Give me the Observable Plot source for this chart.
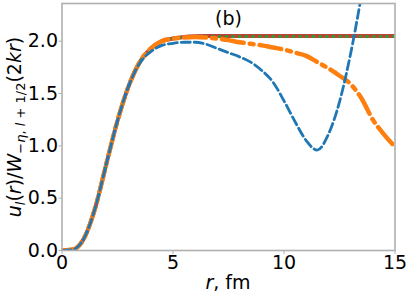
<!DOCTYPE html>
<html><head><meta charset="utf-8">
<script src="https://cdn.jsdelivr.net/npm/d3@7"></script>
<script src="https://cdn.jsdelivr.net/npm/@observablehq/plot@0.6"></script>
<style>body{margin:0;background:#fff;} svg{display:block;}</style>
</head><body><div id="chart"></div>
<script>
// radius grid (fm)
const r = [0,0.5,1,1.5,2,2.5,3,3.5,4,4.5,5,5.5,6,6.5,7,7.5,8,8.5,9,9.5,10,10.5,11,11.5,12,12.5,13,13.5,14,14.5,15];
const uRed    = [0,0.01,0.12,0.41,0.83,1.24,1.57,1.80,1.93,2.00,2.025,2.04,2.047,2.05,2.05,2.05,2.05,2.05,2.05,2.05,2.05,2.05,2.05,2.05,2.05,2.05,2.05,2.05,2.05,2.05,2.05];
const uGreen  = [0,0.01,0.12,0.41,0.83,1.24,1.57,1.80,1.93,2.00,2.025,2.037,2.043,2.045,2.045,2.045,2.045,2.045,2.045,2.045,2.045,2.045,2.045,2.045,2.045,2.045,2.045,2.045,2.045,2.045,2.045];
const uOrange = [0,0.01,0.12,0.41,0.83,1.24,1.57,1.80,1.93,2.00,2.025,2.035,2.04,2.035,2.025,2.01,1.99,1.975,1.96,1.94,1.92,1.89,1.86,1.80,1.74,1.67,1.59,1.45,1.25,1.11,0.99];
const rBlue   = [0,0.5,1,1.5,2,2.5,3,3.5,4,4.5,5,5.5,6,6.5,7,7.5,8,8.5,9,9.5,10,10.5,11,11.5,12,12.5,13,13.5];
const uBlue   = [0,0.01,0.12,0.41,0.83,1.24,1.57,1.79,1.90,1.96,1.98,1.99,1.99,1.97,1.93,1.89,1.85,1.80,1.72,1.61,1.43,1.23,1.05,0.96,1.11,1.42,1.88,2.45];
const xTicks = [0,5,10,15];
const yTicks = [0,0.5,1.0,1.5,2.0];
const panelLabel = [{r:7.5, u:2.21, text:"(b)"}];

const mk = (xs, ys) => xs.map((x,i)=>({r:x, u:ys[i]}));
const red = mk(r,uRed), green = mk(r,uGreen), orange = mk(r,uOrange), blue = mk(rBlue,uBlue);

const chart = Plot.plot({
  width: 407, height: 296,
  marginLeft: 61.5, marginRight: 12.5, marginTop: 3, marginBottom: 46,
  style: {fontFamily: "DejaVu Sans", fontSize: "19px", background: "#fff", color: "black"},
  x: {domain: [0,15]},
  y: {domain: [0,2.36]},
  marks: [
    Plot.line(red, {x:"r", y:"u", stroke:"#c0403a", strokeWidth:4, curve:"monotone-x", clip:true}),
    Plot.line(green, {x:"r", y:"u", stroke:"#2ca02c", strokeWidth:3.5, strokeDasharray:"0.1,6.6", strokeLinecap:"round", curve:"monotone-x", clip:true}),
    Plot.line(orange, {x:"r", y:"u", stroke:"#ff7f0e", strokeWidth:4.5, strokeDasharray:"22,6,4,6", curve:"monotone-x", clip:true}),
    Plot.line(blue, {x:"r", y:"u", stroke:"#1f77b4", strokeWidth:2.8, strokeDasharray:"9,4", curve:"monotone-x", clip:true}),
    Plot.frame({stroke:"#b0b0b0", strokeWidth:1.6}),
    Plot.axisX({ticks:xTicks, tickFormat:d=>String(d), tickSize:4, tickPadding:1, stroke:"#b0b0b0", fill:"black", label:null}),
    Plot.axisY({ticks:yTicks, tickFormat:d3.format(".1f"), tickSize:3, tickPadding:1, stroke:"#b0b0b0", fill:"black", label:null}),
    Plot.text(panelLabel, {x:"r", y:"u", text:"text", fontSize:19, fill:"black"})
  ]
});
document.getElementById("chart").appendChild(chart);

const svg = d3.select(chart);
// x label
const xl = svg.append("text").attr("x", 228).attr("y", 289).attr("text-anchor","middle")
  .attr("font-family","DejaVu Sans").attr("font-size",19).attr("fill","black");
xl.append("tspan").attr("font-style","italic").text("r");
xl.append("tspan").text(", fm");
// y label
const yl = svg.append("text").attr("transform","translate(21,127) rotate(-90)").attr("text-anchor","middle")
  .attr("font-family","DejaVu Sans").attr("font-size",19).attr("fill","black");
yl.append("tspan").attr("font-style","italic").text("u");
yl.append("tspan").attr("font-style","italic").attr("font-size",13).attr("dy",4).text("l");
yl.append("tspan").attr("dy",-4).text("(");
yl.append("tspan").attr("font-style","italic").text("r");
yl.append("tspan").text(")/");
yl.append("tspan").attr("font-style","italic").text("W");
yl.append("tspan").attr("font-size",13).attr("dy",4).text("−");
yl.append("tspan").attr("font-size",13).attr("font-style","italic").text("η");
yl.append("tspan").attr("font-size",13).text(", ");
yl.append("tspan").attr("font-size",13).attr("font-style","italic").text("l");
yl.append("tspan").attr("font-size",13).text(" + 1/2");
yl.append("tspan").attr("dy",-4).text("(2");
yl.append("tspan").attr("font-style","italic").text("kr");
yl.append("tspan").text(")");
</script>
</body></html>
